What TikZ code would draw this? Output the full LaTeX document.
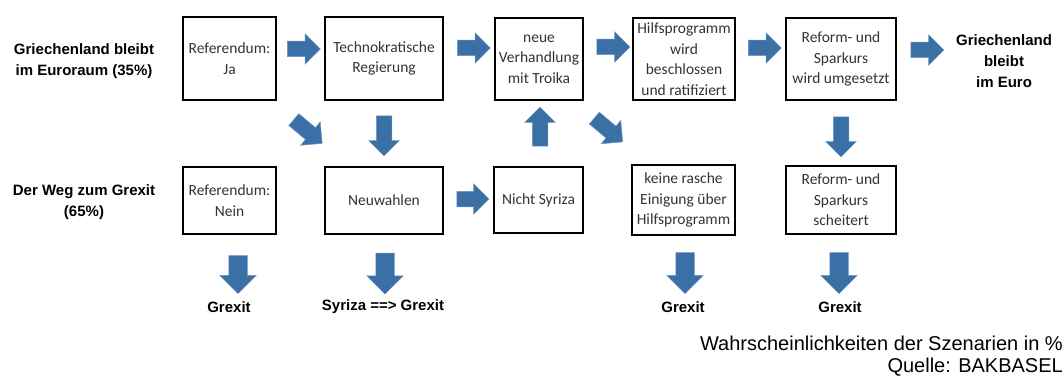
\documentclass[tikz,border=0pt]{standalone}
\usepackage{fontspec}
\setmainfont{Carlito}
\newfontfamily\headfont{Liberation Sans}
\usetikzlibrary{shapes.arrows}
\definecolor{arrowblue}{HTML}{3A70A6}
\definecolor{arrowedge}{HTML}{6B97C4}
\definecolor{boxtext}{HTML}{333333}

\begin{document}
\begin{tikzpicture}[x=1pt, y=-1pt,
    box/.style={draw, line width=1.4pt, inner sep=0pt, align=center, text=boxtext,
      font=\fontsize{15.5}{20.5}\selectfont},
    blockarrow/.style={single arrow, fill=arrowblue, draw=arrowedge, line width=0.5pt,
      inner xsep=0pt, inner ysep=7.5pt, minimum height=33pt, single arrow head extend=7.5pt},
    bigarrow/.style={blockarrow, rotate=-90, minimum height=41pt, inner ysep=9pt,
      single arrow head extend=9pt},
    diagarrow/.style={blockarrow, minimum height=37pt, inner ysep=7.5pt,
      single arrow head extend=7.5pt, rotate=-40},
    scenario/.style={align=center, font=\headfont\bfseries\fontsize{15}{21}\selectfont},
    note/.style={align=right, inner sep=0pt, font=\headfont\fontsize{20}{22.5}\selectfont}]
        \useasboundingbox (0,0) rectangle (1064,377);
        % Scenario titles
        \node[scenario] (EURO) at (84,61) {Griechenland bleibt\\im Euroraum (35\%)};
        \node[scenario] (WEG) at (84,202) {Der Weg zum Grexit\\(65\%)};
        % Upper path
        \node[box, minimum width=93pt, minimum height=83pt] (REFJA) at (229.5,58.5) {Referendum:\\Ja};
        \node[box, minimum width=118pt, minimum height=83pt] (TECH) at (384,58.5) {Technokratische\\Regierung};
        \node[box, minimum width=88pt, minimum height=82pt] (NEUE) at (539,59) {neue\\Verhandlung\\mit Troika};
        \node[box, minimum width=102pt, minimum height=82pt] (HILF) at (684,59) {Hilfsprogramm\\wird\\beschlossen\\und ratifiziert};
        \node[box, minimum width=110pt, minimum height=82pt] (REFORM) at (841,59) {Reform- und\\Sparkurs\\wird umgesetzt};
        \node[scenario] (EUROEND) at (1004,61) {Griechenland\\bleibt\\im Euro};
        % Lower path
        \node[box, minimum width=93pt, minimum height=67pt] (REFNEIN) at (229.5,200.5) {Referendum:\\Nein};
        \node[box, minimum width=118pt, minimum height=67pt] (WAHL) at (384,200.5) {Neuwahlen};
        \node[box, minimum width=89pt, minimum height=66pt] (NSYR) at (538.5,200) {Nicht Syriza};
        \node[box, minimum width=103pt, minimum height=70pt] (KEINE) at (683.5,200) {keine rasche\\Einigung über\\Hilfsprogramm};
        \node[box, minimum width=110pt, minimum height=68pt] (SCHEIT) at (841,200) {Reform- und\\Sparkurs\\scheitert};
        % Outcomes
        \node[scenario] (GREX1) at (229,307) {Grexit};
        \node[scenario] (GREX2) at (383,307) {Syriza ==> Grexit};
        \node[scenario] (GREX3) at (683,307) {Grexit};
        \node[scenario] (GREX4) at (840,307) {Grexit};
        % Block arrows, upper row
        \node[blockarrow] (A1) at (300,49) {};
        \node[blockarrow] (A2) at (470,48) {};
        \node[blockarrow] (A3) at (609.5,47) {};
        \node[blockarrow] (A4) at (761,48) {};
        \node[blockarrow] (A5) at (923.5,50) {};
        % Between the rows
        \node[diagarrow] (A6) at (305,129) {};
        \node[blockarrow, rotate=-90, minimum height=40pt] (A7) at (384,132) {};
        \node[blockarrow, rotate=90, minimum height=39pt] (A8) at (540,130.5) {};
        \node[diagarrow] (A9) at (605.5,127.5) {};
        \node[blockarrow, rotate=-90, minimum height=40pt] (A10) at (841,133) {};
        % Lower row
        \node[blockarrow, minimum height=32pt] (A11) at (469,199) {};
        \node[bigarrow, minimum height=38pt] (A12) at (238,270) {};
        \node[bigarrow] (A13) at (385,269) {};
        \node[bigarrow] (A14) at (685,268.5) {};
        \node[bigarrow] (A15) at (839,268.5) {};
        % Source
        \node[note, anchor=east] (SRC) at (1063,356) {Wahrscheinlichkeiten der Szenarien in \%\\Quelle: BAKBASEL};
      \end{tikzpicture}
\end{document}
